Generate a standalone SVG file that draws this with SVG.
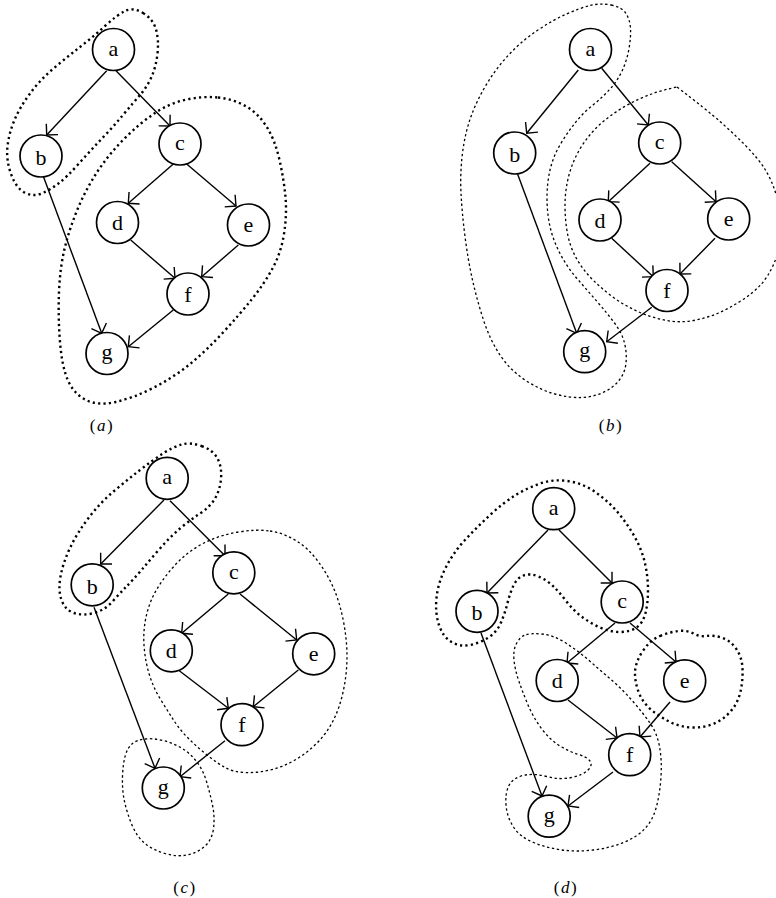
<svg xmlns="http://www.w3.org/2000/svg" width="776" height="898" viewBox="0 0 776 898">
<defs>
<marker id="arr" markerUnits="userSpaceOnUse" viewBox="-10 -10 12 20" markerWidth="12" markerHeight="20" refX="0" refY="0" orient="auto" overflow="visible">
<path d="M-8,-8 L0,0 L-8,8" fill="none" stroke="#000" stroke-width="1.4"/>
</marker>
</defs>
<style>
.n circle{fill:#fff;stroke:#000;stroke-width:1.7}
.n text{font-family:"Liberation Serif","Times New Roman",serif;font-size:22px;text-anchor:middle;fill:#000}
.e line{stroke:#000;stroke-width:1.4;marker-end:url(#arr)}
.bold{fill:none;stroke:#000;stroke-width:2.4;stroke-dasharray:2.2 3.2}
.thin{fill:none;stroke:#000;stroke-width:1.3;stroke-dasharray:2.4 2.6}
.lbl{font-family:"Liberation Serif","Times New Roman",serif;font-size:17px;text-anchor:middle;letter-spacing:1.5px;fill:#000}
</style>
<rect width="776" height="898" fill="#fff"/>

<!-- Panel (a) -->
<g id="clusters-a">
<path class="bold" d="M143,13 Q153,19 156,29.5 Q159,40 157.5,53.5 Q156,67 151.5,77 Q147,87 140,95 Q133,103 123,115 Q113,127 101.5,139 Q90,151 78.5,164 Q67,177 58.5,183.5 Q50,190 41.5,193.5 Q33,197 24.5,192.5 Q16,188 11,174 Q6,160 7.5,146.5 Q9,133 14.5,120 Q20,107 30,93.5 Q40,80 53.5,68.5 Q67,57 80,47 Q93,37 105,26 Q117,15 125,11 Q133,7 143,13 Z"/>
<path class="bold" d="M218,97.5 Q233,99 245.5,106 Q258,113 266.5,126.5 Q275,140 279.5,160 Q284,180 285.5,197.5 Q287,215 284,234 Q281,253 272.5,268.5 Q264,284 252,299 Q240,314 223.5,332 Q207,350 190,364 Q173,378 153,388 Q133,398 115.5,402 Q98,406 86,400 Q74,394 68,380.5 Q62,367 60,342 Q58,317 59,292 Q60,267 65,247 Q70,227 78.5,207 Q87,187 98.5,170 Q110,153 125,138 Q140,123 155,113 Q170,103 186.5,99.5 Q203,96 218,97.5 Z"/>
</g>
<g id="edges-a" class="e">
<line x1="106.7" y1="70.7" x2="46.7" y2="135"/>
<line x1="116" y1="70.7" x2="170" y2="126"/>
<line x1="173.3" y1="164" x2="128.3" y2="203.3"/>
<line x1="186.7" y1="164" x2="236" y2="206"/>
<line x1="130.7" y1="240" x2="175" y2="278.3"/>
<line x1="238.3" y1="245" x2="201.7" y2="276.7"/>
<line x1="173.3" y1="310" x2="128.3" y2="346.7"/>
<line x1="40.7" y1="169.3" x2="101.7" y2="333.3"/>
</g>
<g id="a-a" class="n"><circle cx="113.5" cy="49.5" r="21"/><text x="113.5" y="55.5">a</text></g>
<g id="a-b" class="n"><circle cx="41" cy="156" r="21"/><text x="41" y="165">b</text></g>
<g id="a-c" class="n"><circle cx="180" cy="144" r="21"/><text x="180" y="150">c</text></g>
<g id="a-d" class="n"><circle cx="117.5" cy="222.5" r="21"/><text x="117.5" y="230">d</text></g>
<g id="a-e" class="n"><circle cx="248.5" cy="225" r="21"/><text x="248.5" y="232">e</text></g>
<g id="a-f" class="n"><circle cx="188" cy="294" r="21"/><text x="188" y="301.5">f</text></g>
<g id="a-g" class="n"><circle cx="107" cy="353.5" r="21"/><text x="107" y="359">g</text></g>
<text class="lbl" x="102" y="431">(<tspan font-style="italic">a</tspan>)</text>

<!-- Panel (b) -->
<g id="clusters-b">
<path class="thin" d="M611,5 Q622,7 626,13.5 Q630,20 630.5,28.5 Q631,37 629,48.5 Q627,60 622.5,70 Q618,80 610.5,88.5 Q603,97 593,105 Q583,113 575,123 Q567,133 560,145 Q553,157 550,170 Q547,183 547,198 Q547,213 550,226.5 Q553,240 560,253.5 Q567,267 577,278.5 Q587,290 597,301.5 Q607,313 614.5,323 Q622,333 624.5,343 Q627,353 626,363 Q625,373 619,380.5 Q613,388 603,392.5 Q593,397 581.5,397.5 Q570,398 555,394 Q540,390 525,380 Q510,370 500,355 Q490,340 483.5,320 Q477,300 472.5,280 Q468,260 465,236.5 Q462,213 461,193 Q460,173 462.5,153 Q465,133 471,116.5 Q477,100 487,83.5 Q497,67 510,53.5 Q523,40 538,30 Q553,20 566.5,14 Q580,8 590,5.5 Q600,3 611,5 Z"/>
<path class="thin" d="M677,87 Q707,110 720,121.5 Q733,133 745,145 Q757,157 764.5,168.5 Q772,180 777,197.5 Q782,215 781,232.5 Q780,250 774,263.5 Q768,277 760.5,285 Q753,293 741.5,300.5 Q730,308 718.5,313 Q707,318 693.5,320.5 Q680,323 666.5,320.5 Q653,318 640,312.5 Q627,307 615,298.5 Q603,290 593,280 Q583,270 576.5,258.5 Q570,247 567.5,233.5 Q565,220 565,205 Q565,190 569,175 Q573,160 581.5,146.5 Q590,133 601.5,123 Q613,113 626.5,105.5 Q640,98 651.5,94 Q663,90 677,87 Z"/>
</g>
<g id="edges-b" class="e">
<line x1="578.3" y1="70" x2="526.7" y2="133.3"/>
<line x1="601.7" y1="68.3" x2="648.3" y2="125"/>
<line x1="650" y1="163.3" x2="608.3" y2="201.7"/>
<line x1="671.7" y1="161.7" x2="716" y2="201.7"/>
<line x1="611.7" y1="238.3" x2="653.3" y2="276.7"/>
<line x1="715" y1="238.3" x2="680" y2="274"/>
<line x1="651.7" y1="307.3" x2="606.7" y2="341.7"/>
<line x1="517.3" y1="173.3" x2="576.7" y2="333.3"/>
</g>
<g id="b-a" class="n"><circle cx="590.5" cy="49.5" r="21"/><text x="590.5" y="55.5">a</text></g>
<g id="b-b" class="n"><circle cx="514.7" cy="153" r="21"/><text x="514.7" y="162">b</text></g>
<g id="b-c" class="n"><circle cx="659.7" cy="143" r="21"/><text x="659.7" y="149">c</text></g>
<g id="b-d" class="n"><circle cx="600" cy="220" r="21"/><text x="600" y="227.5">d</text></g>
<g id="b-e" class="n"><circle cx="728.7" cy="219" r="21"/><text x="728.7" y="226">e</text></g>
<g id="b-f" class="n"><circle cx="667" cy="290.5" r="21"/><text x="667" y="298">f</text></g>
<g id="b-g" class="n"><circle cx="584.7" cy="351.7" r="21"/><text x="584.7" y="357">g</text></g>
<text class="lbl" x="611" y="431">(<tspan font-style="italic">b</tspan>)</text>

<!-- Panel (c) -->
<g id="clusters-c">
<path class="bold" d="M201.5,446 Q213,450 217.5,458.5 Q222,467 221,478.5 Q220,490 215,498.5 Q210,507 200,513.5 Q190,520 180,528.5 Q170,537 160,548.5 Q150,560 141.5,570 Q133,580 126.5,586.5 Q120,593 112.5,601.5 Q105,610 94,613 Q83,616 74,613 Q65,610 61.5,600 Q58,590 60.5,576.5 Q63,563 70,548 Q77,533 88.5,518 Q100,503 113.5,491.5 Q127,480 140,470 Q153,460 163,453.5 Q173,447 181.5,444.5 Q190,442 201.5,446 Z"/>
<path class="thin" d="M270,531 Q283,533 295,540 Q307,547 317,560 Q327,573 333.5,588 Q340,603 343.5,621.5 Q347,640 347,656.5 Q347,673 343.5,690 Q340,707 333.5,720 Q327,733 317,743 Q307,753 295,760 Q283,767 270,770 Q257,773 245,772.5 Q233,772 225,767.5 Q217,763 207,755 Q197,747 188.5,738.5 Q180,730 173.5,720 Q167,710 160,698.5 Q153,687 149,673.5 Q145,660 144,645 Q143,630 146.5,615 Q150,600 158.5,586.5 Q167,573 178.5,561.5 Q190,550 205,542.5 Q220,535 238.5,532 Q257,529 270,531 Z"/>
<path class="thin" d="M145,739 Q153,738 163,740.5 Q173,743 181.5,748 Q190,753 196.5,761.5 Q203,770 206.5,781.5 Q210,793 212.5,805 Q215,817 213.5,828.5 Q212,840 204.5,846.5 Q197,853 187,855 Q177,857 165,853.5 Q153,850 145,843.5 Q137,837 132,825 Q127,813 124.5,801.5 Q122,790 122.5,776.5 Q123,763 125.5,755 Q128,747 132.5,743.5 Q137,740 145,739 Z"/>
</g>
<g id="edges-c" class="e">
<line x1="164" y1="500" x2="100.7" y2="564"/>
<line x1="170" y1="500.7" x2="225" y2="555.7"/>
<line x1="228.3" y1="594" x2="181.7" y2="633.3"/>
<line x1="240" y1="594" x2="296.7" y2="640"/>
<line x1="179.3" y1="670.7" x2="228.3" y2="708.3"/>
<line x1="298.3" y1="670" x2="253.3" y2="706.7"/>
<line x1="225" y1="740.7" x2="180" y2="776.7"/>
<line x1="94" y1="607.3" x2="155" y2="768.3"/>
</g>
<g id="c-a" class="n"><circle cx="167.2" cy="478.3" r="21"/><text x="167.2" y="484.3">a</text></g>
<g id="c-b" class="n"><circle cx="92.2" cy="584.8" r="21"/><text x="92.2" y="593.8">b</text></g>
<g id="c-c" class="n"><circle cx="233.8" cy="572.8" r="21"/><text x="233.8" y="578.8">c</text></g>
<g id="c-d" class="n"><circle cx="171.3" cy="650.8" r="21"/><text x="171.3" y="658.3">d</text></g>
<g id="c-e" class="n"><circle cx="313.7" cy="653.8" r="21"/><text x="313.7" y="660.8">e</text></g>
<g id="c-f" class="n"><circle cx="242" cy="724.7" r="21"/><text x="242" y="732.2">f</text></g>
<g id="c-g" class="n"><circle cx="163.3" cy="788" r="21"/><text x="163.3" y="793.5">g</text></g>
<text class="lbl" x="185" y="892.5">(<tspan font-style="italic">c</tspan>)</text>

<!-- Panel (d) -->
<g id="clusters-d">
<path class="bold" d="M567.5,481 Q582,483 594.5,491.5 Q607,500 617,511.5 Q627,523 634.5,536.5 Q642,550 645,563.5 Q648,577 648,590 Q648,603 645.5,613 Q643,623 636.5,627.5 Q630,632 620,632 Q610,632 600,627.5 Q590,623 581.5,616.5 Q573,610 566.5,601.5 Q560,593 553.5,586.5 Q547,580 538.5,576.5 Q530,573 523.5,575.5 Q517,578 513.5,585.5 Q510,593 507.5,603 Q505,613 501,622.5 Q497,632 488.5,637.5 Q480,643 470,645 Q460,647 451.5,642 Q443,637 439,625 Q435,613 436.5,598 Q438,583 445.5,568 Q453,553 465,540 Q477,527 490,515 Q503,503 515,495.5 Q527,488 540,483.5 Q553,479 567.5,481 Z"/>
<path class="thin" d="M541.5,634 Q553,635 565,642.5 Q577,650 588.5,660 Q600,670 611.5,680 Q623,690 633,701.5 Q643,713 650,723 Q657,733 659.5,746.5 Q662,760 661,776.5 Q660,793 656.5,806.5 Q653,820 645,828.5 Q637,837 623.5,842.5 Q610,848 593.5,850 Q577,852 562,850 Q547,848 533.5,842.5 Q520,837 513.5,827 Q507,817 506,805 Q505,793 509,785.5 Q513,778 523,775.5 Q533,773 546.5,776.5 Q560,780 571.5,777.5 Q583,775 588,770 Q593,765 590,761 Q587,757 578.5,754.5 Q570,752 560,746 Q550,740 541.5,728.5 Q533,717 528,705 Q523,693 519,681.5 Q515,670 514,660 Q513,650 516.5,643.5 Q520,637 525,635 Q530,633 541.5,634 Z"/>
<path class="bold" d="M660,636 Q670,632 678.5,631 Q687,630 693.5,633.5 Q700,637 706.5,636 Q713,635 721.5,637.5 Q730,640 736,648.5 Q742,657 742.5,668.5 Q743,680 740.5,691.5 Q738,703 730.5,711.5 Q723,720 713,724 Q703,728 691.5,727.5 Q680,727 670,722 Q660,717 651.5,710 Q643,703 639,693 Q635,683 635,673 Q635,663 642.5,651.5 Q650,640 660,636 Z"/>
</g>
<g id="edges-d" class="e">
<line x1="548" y1="530" x2="487" y2="593"/>
<line x1="559" y1="530" x2="612" y2="583"/>
<line x1="615" y1="623" x2="567" y2="663"/>
<line x1="630" y1="623" x2="676" y2="662"/>
<line x1="568" y1="700" x2="617" y2="738"/>
<line x1="670" y1="702" x2="640" y2="737"/>
<line x1="613" y1="772" x2="568" y2="806"/>
<line x1="481" y1="633" x2="542" y2="796"/>
</g>
<g id="d-a" class="n"><circle cx="553.7" cy="508.7" r="21"/><text x="553.7" y="514.7">a</text></g>
<g id="d-b" class="n"><circle cx="477" cy="611.3" r="21"/><text x="477" y="620.3">b</text></g>
<g id="d-c" class="n"><circle cx="622.2" cy="602" r="21"/><text x="622.2" y="608">c</text></g>
<g id="d-d" class="n"><circle cx="557.2" cy="680.5" r="21"/><text x="557.2" y="688">d</text></g>
<g id="d-e" class="n"><circle cx="684.7" cy="680.8" r="21"/><text x="684.7" y="687.8">e</text></g>
<g id="d-f" class="n"><circle cx="629.7" cy="754.7" r="21"/><text x="629.7" y="762.2">f</text></g>
<g id="d-g" class="n"><circle cx="549.2" cy="816.2" r="21"/><text x="549.2" y="821.7">g</text></g>
<text class="lbl" x="566" y="892.5">(<tspan font-style="italic">d</tspan>)</text>
</svg>
